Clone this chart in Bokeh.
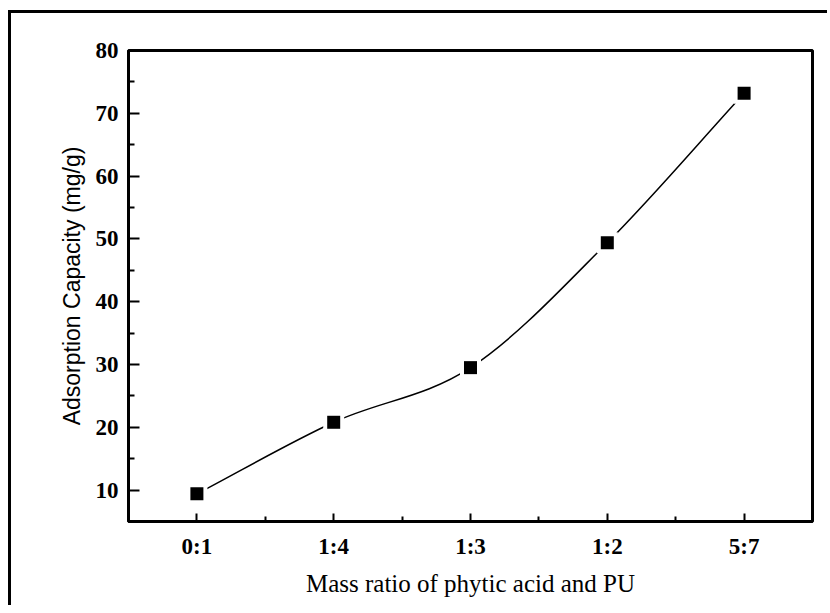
from bokeh.plotting import figure
from bokeh.layouts import column
from bokeh.embed import file_html
from bokeh.resources import INLINE
from bokeh.models import FixedTicker, Range1d, ColumnDataSource

# ---- data ----
categories = ["0:1", "1:4", "1:3", "1:2", "5:7"]
capacity = [9.4, 20.8, 29.5, 49.4, 73.2]
y_ticks = [10, 20, 30, 40, 50, 60, 70, 80]
y_minor = [15, 25, 35, 45, 55, 65, 75]

x_pos = list(range(len(categories)))
x_minor = [i + 0.5 for i in x_pos[:-1]]

# smooth connecting curve (cubic bezier segments from the data points)
n = len(capacity)
slopes = []
for i in range(n):
    if i == 0:
        slopes.append(capacity[1] - capacity[0])
    elif i == n - 1:
        slopes.append(capacity[-1] - capacity[-2])
    else:
        slopes.append((capacity[i + 1] - capacity[i - 1]) / 2.0)
bez = dict(x0=[], y0=[], x1=[], y1=[], cx0=[], cy0=[], cx1=[], cy1=[])
for i in range(n - 1):
    bez["x0"].append(x_pos[i]); bez["y0"].append(capacity[i])
    bez["x1"].append(x_pos[i + 1]); bez["y1"].append(capacity[i + 1])
    bez["cx0"].append(x_pos[i] + 1 / 3); bez["cy0"].append(capacity[i] + slopes[i] / 3)
    bez["cx1"].append(x_pos[i + 1] - 1 / 3); bez["cy1"].append(capacity[i + 1] - slopes[i + 1] / 3)

p = figure(width=816, height=592, output_backend="svg", toolbar_location=None,
           x_range=Range1d(-0.5, 4.5), y_range=Range1d(5, 80),
           min_border_left=117, min_border_top=37, min_border_right=15, min_border_bottom=84)
p.background_fill_color = "white"
p.border_fill_color = "white"
p.grid.visible = False
p.outline_line_color = "black"
p.outline_line_width = 3
p.outline_line_alpha = 1

src = ColumnDataSource(bez)
p.bezier(x0="x0", y0="y0", x1="x1", y1="y1", cx0="cx0", cy0="cy0", cx1="cx1", cy1="cy1",
         source=src, line_color="black", line_width=1.5)
p.scatter(x_pos, capacity, marker="square", size=21, fill_color="white", line_color=None)
p.scatter(x_pos, capacity, marker="square", size=13, fill_color="black", line_color=None)

serif = "Liberation Serif"
for ax in (p.xaxis[0], p.yaxis[0]):
    ax.axis_line_width = 3
    ax.axis_line_color = "black"
    ax.major_tick_out = 0
    ax.minor_tick_out = 0
    ax.major_tick_line_width = 2
    ax.minor_tick_line_width = 2
    ax.major_label_text_font = serif
    ax.major_label_text_font_style = "bold"
    ax.major_label_text_font_size = "23px"
    ax.major_label_text_color = "black"
    ax.axis_label_text_color = "black"
    ax.axis_label_text_font_style = "normal"

p.xaxis.ticker = FixedTicker(ticks=x_pos, minor_ticks=x_minor)
p.xaxis.major_label_overrides = {i: c for i, c in zip(x_pos, categories)}
p.xaxis.major_tick_in = 8
p.xaxis.minor_tick_in = 5
p.xaxis.major_label_standoff = 12
p.xaxis.axis_label = "Mass ratio of phytic acid and PU"
p.xaxis.axis_label_text_font = serif
p.xaxis.axis_label_text_font_size = "25px"
p.xaxis.axis_label_standoff = 8

p.yaxis.ticker = FixedTicker(ticks=y_ticks, minor_ticks=y_minor)
p.yaxis.major_tick_in = 11
p.yaxis.minor_tick_in = 6
p.yaxis.major_label_standoff = 10
p.yaxis.axis_label = "Adsorption Capacity (mg/g)"
p.yaxis.axis_label_text_font = "Liberation Sans"
p.yaxis.axis_label_text_font_size = "23px"
p.yaxis.axis_label_standoff = 8

layout = column(p, margin=(10, 0, 0, 8),
                styles={"border-top": "3px solid black", "border-left": "3px solid black"})

open("out.html", "w").write(file_html(layout, INLINE))
